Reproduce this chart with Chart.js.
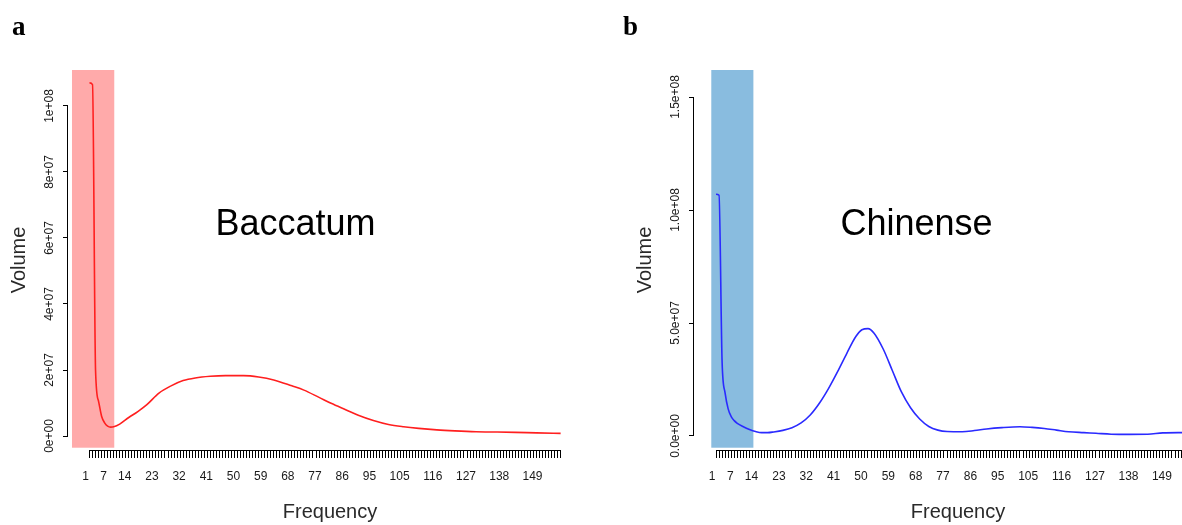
<!DOCTYPE html>
<html>
<head>
<meta charset="utf-8">
<title>Baccatum / Chinense volume by frequency</title>
<script src="https://cdn.jsdelivr.net/npm/chart.js@4.4.1/dist/chart.umd.min.js"></script>
<style>
  html, body { margin: 0; padding: 0; background: #fff; }
  body { position: relative; width: 1182px; height: 525px; overflow: hidden; }
  .panel { position: absolute; top: 0; height: 525px; }
  #panel-a { left: 0; width: 600px; }
  #panel-b { left: 620px; width: 602px; }
  .tag {
    position: absolute; top: 11px; line-height: 27px;
    font: bold 27px "Liberation Serif", "DejaVu Serif", serif; color: #000;
  }
</style>
</head>
<body>
<div class="panel" id="panel-a"><canvas id="chart-a"></canvas></div>
<div class="panel" id="panel-b"><canvas id="chart-b"></canvas></div>
<div class="tag" style="left:12px">a</div>
<div class="tag" style="left:623px">b</div>

<script>
  // every frequency class gets a tick mark, only some get a label
  const freqCount = 157;
  const freqTickLabels = [1, 7, 14, 23, 32, 41, 50, 59, 68, 77, 86, 95, 105, 116, 127, 138, 149];

  // panel a - Baccatum
  const baccatumFreq = [1, 2, 3, 4, 5, 6, 7, 8, 9, 11, 14, 17, 20, 24, 28, 32, 36, 41, 46, 52,
    57, 62, 68, 72, 77, 81, 86, 90, 95, 100, 105, 110, 116, 122, 129, 136, 142, 149, 157];
  const baccatumVolume = [107e6, 106.5e6, 20e6, 10.5e6, 6e6, 4.0e6, 3.0e6, 2.7e6, 2.8e6, 3.6e6,
    5.6e6, 7.4e6, 9.5e6, 13e6, 15.2e6, 16.8e6, 17.6e6, 18.1e6, 18.3e6, 18.3e6,
    17.9e6, 17.0e6, 15.2e6, 13.9e6, 11.7e6, 9.9e6, 7.9e6, 6.3e6, 4.7e6, 3.5e6,
    2.8e6, 2.3e6, 1.85e6, 1.55e6, 1.3e6, 1.2e6, 1.1e6, 0.95e6, 0.8e6];
  const baccatumShade = [-4.8, 9.2];
  const baccatumYTicks = [0, 2e7, 4e7, 6e7, 8e7, 1e8];
  const baccatumYLabels = ["0e+00", "2e+07", "4e+07", "6e+07", "8e+07", "1e+08"];

  // panel b - Chinense
  const chinenseFreq = [1, 2, 3, 4, 5, 6, 7, 8, 10, 12, 14, 16, 18, 20, 23, 26, 29, 32, 35, 38,
    41, 44, 47, 49, 51, 53, 56, 59, 62, 65, 68, 71, 74, 77, 82, 86, 90, 95, 101, 105,
    109, 113, 117, 122, 126, 131, 137, 143, 148, 153, 157];
  const chinenseVolume = [107e6, 106.5e6, 33e6, 19e6, 12e6, 8.6e6, 6.8e6, 5.6e6, 4.1e6, 2.9e6,
    2.0e6, 1.5e6, 1.5e6, 1.8e6, 2.5e6, 3.7e6, 5.8e6, 9.3e6, 14.5e6, 21e6,
    28.5e6, 36.5e6, 44e6, 47e6, 47.5e6, 45.5e6, 38.5e6, 29e6, 19.5e6, 12.5e6,
    7.5e6, 4.2e6, 2.6e6, 2.0e6, 1.9e6, 2.4e6, 3.1e6, 3.7e6, 4.1e6, 3.8e6,
    3.3e6, 2.6e6, 1.9e6, 1.5e6, 1.2e6, 0.8e6, 0.7e6, 0.75e6, 1.4e6, 1.5e6, 1.5e6];
  const chinenseShade = [-0.55, 13.3];
  const chinenseYTicks = [0, 5e7, 1e8, 1.5e8];
  const chinenseYLabels = ["0.0e+00", "5.0e+07", "1.0e+08", "1.5e+08"];

  const freqCategories = [];
  for (let f = 1; f <= freqCount; f++) freqCategories.push(f);

  Chart.defaults.font.family = '"Liberation Sans", Arial, Helvetica, sans-serif';
  Chart.defaults.color = "#1a1a1a";

  // shaded frequency band, R-style axis lines, rotated y labels, panel name
  const panelDecor = {
    id: "panelDecor",
    beforeDatasetsDraw(chart, args, opts) {
      const { ctx, chartArea } = chart;
      const xs = chart.scales.x;
      const ys = chart.scales.y;
      const x0 = xs.getPixelForValue(opts.shade[0]);
      const x1 = xs.getPixelForValue(opts.shade[1]);
      const yb = ys.getPixelForValue(opts.shadeFloor);
      ctx.save();
      ctx.fillStyle = opts.shadeColor;
      ctx.fillRect(x0, chartArea.top, x1 - x0, yb - chartArea.top);
      ctx.restore();
    },
    afterDraw(chart, args, opts) {
      const { ctx, chartArea } = chart;
      const xs = chart.scales.x;
      const ys = chart.scales.y;

      ctx.save();
      ctx.strokeStyle = "#000";
      ctx.lineWidth = 1;
      ctx.beginPath();
      const ax = chartArea.left - 0.5;
      ctx.moveTo(ax, ys.getPixelForValue(opts.yTicks[0]));
      ctx.lineTo(ax, ys.getPixelForValue(opts.yTicks[opts.yTicks.length - 1]));
      const ay = chartArea.bottom + 0.5;
      ctx.moveTo(xs.getPixelForValue(1), ay);
      ctx.lineTo(xs.getPixelForValue(freqCount), ay);
      ctx.stroke();

      ctx.fillStyle = "#1a1a1a";
      ctx.font = '12px "Liberation Sans", Arial, sans-serif';
      ctx.textAlign = "center";
      ctx.textBaseline = "alphabetic";
      opts.yTicks.forEach((v, i) => {
        ctx.save();
        ctx.translate(opts.yLabelX, ys.getPixelForValue(v));
        ctx.rotate(-Math.PI / 2);
        ctx.fillText(opts.yLabels[i], 0, 0);
        ctx.restore();
      });

      ctx.fillStyle = "#000";
      ctx.font = '36px "Liberation Sans", Arial, sans-serif';
      ctx.fillText(opts.name, xs.getPixelForValue(opts.nameAt[0]), ys.getPixelForValue(opts.nameAt[1]));
      ctx.restore();
    },
  };

  function buildChart(canvasId, cfg) {
    const points = cfg.freq.map((f, i) => ({ x: f, y: cfg.volume[i] }));
    return new Chart(document.getElementById(canvasId), {
      type: "line",
      data: {
        datasets: [{
          data: points,
          borderColor: cfg.lineColor,
          borderWidth: 1.6,
          pointRadius: 0,
          fill: false,
          cubicInterpolationMode: "monotone",
        }],
      },
      options: {
        responsive: true,
        maintainAspectRatio: false,
        animation: false,
        events: [],
        layout: { padding: { left: 0, top: 70, right: cfg.padRight, bottom: 0 } },
        plugins: {
          legend: { display: false },
          tooltip: { enabled: false },
          panelDecor: {
            shade: cfg.shade,
            shadeFloor: cfg.shadeFloor,
            shadeColor: cfg.shadeColor,
            yTicks: cfg.yTicks,
            yLabels: cfg.yLabels,
            yLabelX: cfg.yLabelX,
            name: cfg.name,
            nameAt: cfg.nameAt,
          },
        },
        scales: {
          x: {
            type: "linear",
            min: cfg.xMin,
            max: cfg.xMax,
            afterBuildTicks: (s) => { s.ticks = freqCategories.map((v) => ({ value: v })); },
            afterFit: (s) => { s.height = 75; },
            grid: { drawOnChartArea: false, drawTicks: true, tickLength: 8, color: "#000", lineWidth: 1 },
            border: { display: false },
            ticks: {
              autoSkip: false,
              minRotation: 0,
              maxRotation: 0,
              padding: 11,
              labelOffset: -4,
              font: { size: 12 },
              callback: (v) => (freqTickLabels.includes(v) ? String(v) : ""),
            },
            title: {
              display: true,
              text: "Frequency",
              color: "#2a2a2a",
              font: { size: 20 },
              padding: { top: 0, bottom: 1 },
            },
          },
          y: {
            type: "linear",
            min: cfg.yMin,
            max: cfg.yMax,
            afterBuildTicks: (s) => { s.ticks = cfg.yTicks.map((v) => ({ value: v })); },
            afterFit: (s) => { s.width = cfg.yAxisWidth; },
            grid: { drawOnChartArea: false, drawTicks: true, tickLength: 5, color: "#000", lineWidth: 1 },
            border: { display: false },
            ticks: { display: false },
            title: {
              display: true,
              text: "Volume",
              color: "#2a2a2a",
              font: { size: 20 },
              padding: { top: cfg.yTitlePad, bottom: 0 },
            },
          },
        },
      },
      plugins: [panelDecor],
    });
  }

  buildChart("chart-a", {
    freq: baccatumFreq,
    volume: baccatumVolume,
    lineColor: "#ff1f1f",
    shade: baccatumShade,
    shadeFloor: -3.55e6,
    shadeColor: "#ffaaaa",
    yTicks: baccatumYTicks,
    yLabels: baccatumYLabels,
    yLabelX: 52.5,
    name: "Baccatum",
    nameAt: [69.2, 6.09e7],
    xMin: -6.119,
    xMax: 167.39,
    yMin: -4.2424e6,
    yMax: 1.10909e8,
    yAxisWidth: 68,
    yTitlePad: 7,
    padRight: 8,
  });

  buildChart("chart-b", {
    freq: chinenseFreq,
    volume: chinenseVolume,
    lineColor: "#2a2aff",
    shade: chinenseShade,
    shadeFloor: -5.18e6,
    shadeColor: "#89bcdf",
    yTicks: chinenseYTicks,
    yLabels: chinenseYLabels,
    yLabelX: 59,
    name: "Chinense",
    nameAt: [66.95, 8.89e7],
    xMin: -6.237,
    xMax: 167.45,
    yMin: -6.195e6,
    yMax: 1.6195e8,
    yAxisWidth: 74,
    yTitlePad: 13.5,
    padRight: 0,
  });
</script>
</body>
</html>
